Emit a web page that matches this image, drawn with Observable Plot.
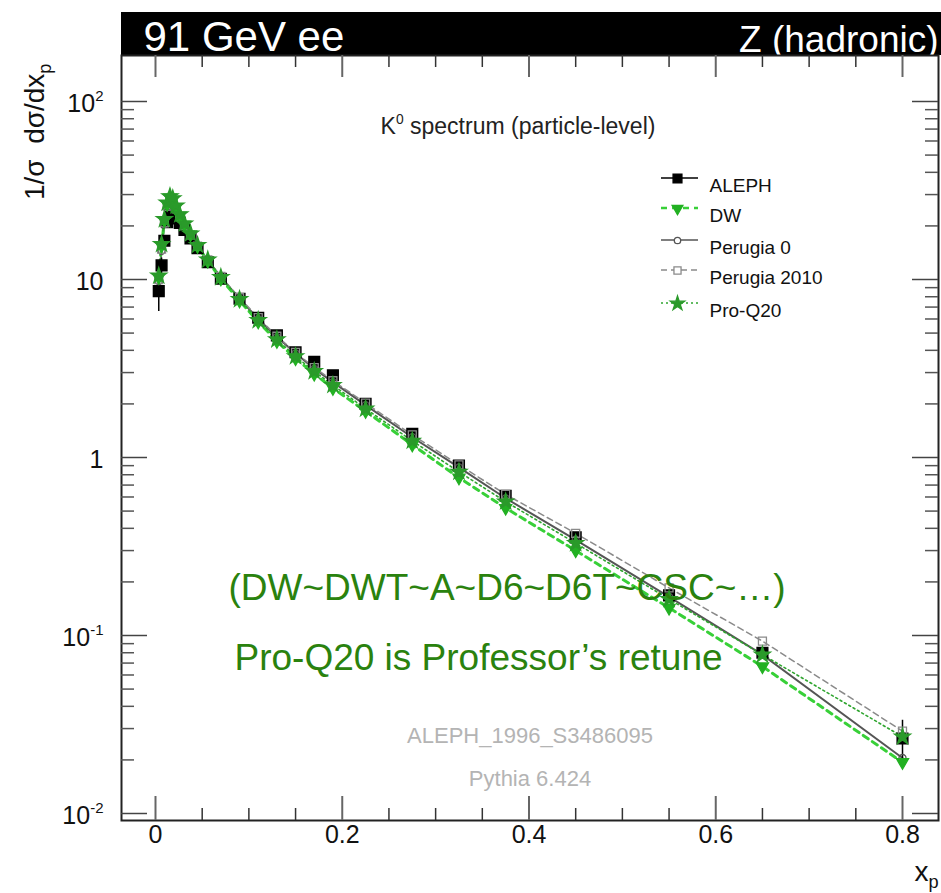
<!DOCTYPE html>
<html><head><meta charset="utf-8">
<script src="https://cdn.jsdelivr.net/npm/d3@7"></script>
<script src="https://cdn.jsdelivr.net/npm/@observablehq/plot@0.6"></script>
<style>
html,body{margin:0;padding:0;background:#fff;}
svg{display:block;}
</style></head><body>
<div id="chart"></div>
<script>
// ---- data ----
const xp = [0.0035, 0.0065, 0.0095, 0.0125, 0.0155, 0.0185, 0.022, 0.026, 0.031, 0.0375, 0.045, 0.056, 0.07, 0.09,
            0.11, 0.13, 0.15, 0.17, 0.19, 0.225, 0.275, 0.325, 0.375, 0.45, 0.55, 0.65, 0.8];
const aleph = [8.6, 12.0, 16.5, 21.0, 23.0, 23.0, 22.0, 20.8, 19.0, 17.0, 15.0, 12.5, 10.1, 7.8,
               6.1, 4.85, 3.9, 3.45, 2.9, 2.0, 1.36, 0.90, 0.61, 0.356, 0.168, 0.080, 0.0264];
const alephErr = [2.0, 1.2, 1.0, 0.9, 0.9, 0.8, 0.7, 0.6, 0.5, 0.45, 0.4, 0.3, 0.25, 0.2,
                  0.15, 0.12, 0.1, 0.09, 0.08, 0.06, 0.04, 0.03, 0.02, 0.015, 0.008, 0.005, 0.007];
const dw = [10.3, 15.5, 21.5, 26.5, 28.8, 28.0, 25.5, 22.8, 20.3, 17.9, 15.4, 12.7, 10.1, 7.6,
            5.8, 4.5, 3.6, 2.95, 2.45, 1.82, 1.18, 0.77, 0.52, 0.30, 0.143, 0.067, 0.0194];
const perugia0 = [9.8, 14.5, 20.5, 25.5, 27.5, 26.7, 24.6, 22.3, 19.9, 17.6, 15.2, 12.8, 10.3, 7.8,
                  6.0, 4.75, 3.85, 3.15, 2.65, 1.97, 1.30, 0.88, 0.59, 0.345, 0.165, 0.078, 0.0205];
const perugia2010 = [10.0, 14.8, 20.8, 25.8, 27.8, 27.0, 24.9, 22.6, 20.1, 17.8, 15.4, 12.9, 10.4, 7.9,
                     6.1, 4.8, 3.9, 3.2, 2.7, 2.02, 1.34, 0.91, 0.62, 0.375, 0.185, 0.093, 0.029];
const proQ20 = [10.5, 15.8, 21.8, 27.0, 29.3, 28.5, 26.0, 23.2, 20.6, 18.1, 15.6, 12.9, 10.3, 7.75,
                5.9, 4.6, 3.7, 3.05, 2.55, 1.88, 1.24, 0.83, 0.565, 0.33, 0.16, 0.078, 0.027];
const seriesNames = ["ALEPH", "DW", "Perugia 0", "Perugia 2010", "Pro-Q20"];
const xMajorTicks = [0, 0.2, 0.4, 0.6, 0.8];
const xTickLabels = ["0", "0.2", "0.4", "0.6", "0.8"];
const xMinorTicks = [0.05, 0.1, 0.15, 0.25, 0.3, 0.35, 0.45, 0.5, 0.55, 0.65, 0.7, 0.75];
const yMajorTicks = [0.01, 0.1, 1, 10, 100];
const yTickLabels = ["10^{-2}", "10^{-1}", "1", "10", "10^{2}"];
const yMinorTicks = [0.01, 0.1, 1, 10].flatMap(d => [2,3,4,5,6,7,8,9].map(k => k * d));
const headerLeft = "91 GeV ee";
const headerRight = "Z (hadronic)";
const plotTitle = "K^{0} spectrum (particle-level)";
const xLabel = "x_{p}";
const yLabel = "1/σ  dσ/dx_{p}";
const noteLines = ["(DW~DWT~A~D6~D6T~CSC~…)", "Pro-Q20 is Professor’s retune"];
const infoLines = ["ALEPH_1996_S3486095", "Pythia 6.424"];

// ---- layout ----
const W = 941, H = 893, mL = 121, mR = 3, mT = 55, mB = 73;
const fw = W - mL - mR, fh = H - mT - mB;
const font = "'Liberation Sans', Arial, Helvetica, sans-serif";

const rows = xp.map((x, i) => ({x, aleph: aleph[i], lo: aleph[i] - alephErr[i], hi: aleph[i] + alephErr[i],
  dw: dw[i], p0: perugia0[i], p2010: perugia2010[i], q20: proQ20[i]}));

const triDown = {draw(ctx, size) {
  const s = Math.sqrt(size * 4 / Math.sqrt(3)); const h = s * Math.sqrt(3) / 2;
  ctx.moveTo(-s/2, -h/3); ctx.lineTo(s/2, -h/3); ctx.lineTo(0, 2*h/3); ctx.closePath();
}};

const styles = {
  "ALEPH":        {stroke: "#000", dash: null, sw: 1.5, symbol: "square", fill: "#000", mstroke: "#000", r: 6, lr: 5},
  "DW":           {stroke: "#38d038", dash: "6,5", sw: 3, symbol: triDown, fill: "#22b022", mstroke: "#22b022", r: 4.5, lr: 4},
  "Perugia 0":    {stroke: "#555", dash: null, sw: 2, symbol: "circle", fill: "none", mstroke: "#555", r: 3.5, lr: 3.2},
  "Perugia 2010": {stroke: "#8a8a8a", dash: "6,4", sw: 1.5, symbol: "square", fill: "none", mstroke: "#8a8a8a", r: 4.5, lr: 4},
  "Pro-Q20":      {stroke: "#2fa52f", dash: "2,3", sw: 1.6, symbol: "star", fill: "#2a9a2a", mstroke: "#2a9a2a", r: 5, lr: 4.5}
};
const keyOf = {"DW": "dw", "Perugia 0": "p0", "Perugia 2010": "p2010", "Pro-Q20": "q20"};

const marks = [];
// header bar
marks.push((index, scales, values, dims) => {
  return d3.create("svg:rect").attr("x", dims.marginLeft).attr("y", 12)
    .attr("width", dims.width - dims.marginLeft).attr("height", dims.marginTop - 12)
    .attr("fill", "#000").node();
});
marks.push(Plot.text([headerLeft], {text: d => d, frameAnchor: "top-left", textAnchor: "start", lineAnchor: "bottom",
  dx: 22, dy: -5, fill: "#fff", fontSize: 42, fontFamily: font}));
marks.push(Plot.text([headerRight], {text: d => d, frameAnchor: "top-right", textAnchor: "end", lineAnchor: "bottom",
  dx: 0, dy: -4, fill: "#fff", fontSize: 37, fontFamily: font}));

marks.push(Plot.frame({stroke: "#222", strokeWidth: 2}));

// ticks (inward, all four sides)
marks.push(Plot.tickX(xMajorTicks, {x: d => d, insetTop: fh - 24, stroke: "#666", strokeWidth: 2}));
marks.push(Plot.tickX(xMajorTicks, {x: d => d, insetBottom: fh - 22, stroke: "#666", strokeWidth: 2}));
marks.push(Plot.tickX(xMinorTicks, {x: d => d, insetTop: fh - 12, stroke: "#333", strokeWidth: 1.5}));
marks.push(Plot.tickX(xMinorTicks, {x: d => d, insetBottom: fh - 12, stroke: "#333", strokeWidth: 1.5}));
marks.push(Plot.tickY(yMajorTicks, {y: d => d, insetRight: fw - 26, stroke: "#444", strokeWidth: 1.5}));
marks.push(Plot.tickY(yMajorTicks, {y: d => d, insetLeft: fw - 26, stroke: "#444", strokeWidth: 1.5}));
marks.push(Plot.tickY(yMinorTicks, {y: d => d, insetRight: fw - 13, stroke: "#555", strokeWidth: 1.5}));
marks.push(Plot.tickY(yMinorTicks, {y: d => d, insetLeft: fw - 13, stroke: "#555", strokeWidth: 1.5}));

// tick labels
marks.push(Plot.text(xMajorTicks, {x: d => d, text: (d, i) => xTickLabels[i], frameAnchor: "bottom", dy: 22,
  fontSize: 25, fontFamily: font, fill: "#111"}));
marks.push(Plot.text(yMajorTicks, {y: d => d, text: (d, i) => yTickLabels[i], frameAnchor: "left", textAnchor: "end",
  dx: -18, dy: 2, fontSize: 25, fontFamily: font, fill: "#111"}));

// axis labels and titles
marks.push(Plot.text([xLabel], {text: d => d, frameAnchor: "bottom-right", textAnchor: "end", lineAnchor: "bottom",
  dx: 0, dy: 60, fontSize: 28, fontFamily: font, fill: "#111"}));
marks.push(Plot.text([yLabel], {text: d => d, frameAnchor: "top-left", textAnchor: "end", lineAnchor: "bottom",
  rotate: -90, dx: -78, dy: 8, fontSize: 28, fontFamily: font, fill: "#111"}));
marks.push(Plot.text([plotTitle], {text: d => d, frameAnchor: "top", lineAnchor: "bottom",
  dx: -12, dy: 78, fontSize: 23, fontFamily: font, fill: "#222"}));
marks.push(Plot.text([infoLines[0]], {text: d => d, frameAnchor: "bottom", lineAnchor: "bottom",
  dx: 0, dy: -78, fontSize: 22, fontFamily: font, fill: "#b4b4b4"}));
marks.push(Plot.text([infoLines[1]], {text: d => d, frameAnchor: "bottom", lineAnchor: "bottom",
  dx: 0, dy: -35, fontSize: 22, fontFamily: font, fill: "#b4b4b4"}));

// series lines
for (const name of ["Perugia 0", "Perugia 2010", "DW", "Pro-Q20"]) {
  const s = styles[name], k = keyOf[name];
  marks.push(Plot.line(rows, {x: "x", y: k, stroke: s.stroke, strokeWidth: s.sw, strokeDasharray: s.dash}));
}
// data
marks.push(Plot.ruleX(rows, {x: "x", y1: "lo", y2: "hi", stroke: "#000", strokeWidth: 1.5}));
marks.push(Plot.dot(rows, {x: "x", y: "aleph", symbol: "square", r: styles["ALEPH"].r, fill: "#000", stroke: "#000"}));
// MC markers
for (const name of ["Perugia 0", "Perugia 2010", "DW", "Pro-Q20"]) {
  const s = styles[name], k = keyOf[name];
  marks.push(Plot.dot(rows, {x: "x", y: k, symbol: s.symbol, r: s.r, fill: s.fill, stroke: s.mstroke, strokeWidth: 1.3}));
}

// legend
const legRowDy = [123, 153, 185, 215, 248];
marks.push((index, scales, values, dims) => {
  const g = d3.create("svg:g");
  seriesNames.forEach((name, i) => {
    const s = styles[name];
    const y = dims.marginTop + legRowDy[i];
    g.append("line").attr("x1", dims.marginLeft + 540).attr("x2", dims.marginLeft + 577)
      .attr("y1", y).attr("y2", y).attr("stroke", s.stroke).attr("stroke-width", name === "DW" ? 2.5 : 1.5)
      .attr("stroke-dasharray", s.dash);
  });
  return g.node();
});
seriesNames.forEach((name, i) => {
  const s = styles[name];
  marks.push(Plot.dot([name], {frameAnchor: "top-left", dx: 556, dy: legRowDy[i], symbol: s.symbol, r: s.lr,
    fill: s.fill === "none" ? "#fff" : s.fill, stroke: s.mstroke, strokeWidth: 1.3}));
  marks.push(Plot.text([name], {text: d => d, frameAnchor: "top-left", textAnchor: "start", dx: 588, dy: legRowDy[i],
    fontSize: 19, fontFamily: font, fill: "#111"}));
});

// green annotation
marks.push(Plot.text([noteLines[0]], {text: d => d, frameAnchor: "top-left", textAnchor: "start", lineAnchor: "bottom",
  dx: 107, dy: 544, fontSize: 37, fontFamily: "Helvetica, Arial, 'Liberation Sans', sans-serif", fill: "#2a820e"}));
marks.push(Plot.text([noteLines[1]], {text: d => d, frameAnchor: "top-left", textAnchor: "start", lineAnchor: "bottom",
  dx: 113, dy: 614, fontSize: 37, fontFamily: "Helvetica, Arial, 'Liberation Sans', sans-serif", fill: "#2a820e"}));

const chart = Plot.plot({
  width: W, height: H, marginLeft: mL, marginRight: mR, marginTop: mT, marginBottom: mB,
  style: {background: "#fff", fontFamily: font, overflow: "visible"},
  x: {domain: [(mL - 155) / 933.75, (W - mR - 155) / 933.75], axis: null},
  y: {type: "log", domain: [Math.pow(10, -2 - 7 / 178), Math.pow(10, 2 + 46 / 178)], axis: null},
  marks
});

// rich text: ^{..} superscript and _{..} subscript
function richText(svg) {
  d3.select(svg).selectAll("text").each(function() {
    const t = this.textContent;
    if (!/[\^_]\{/.test(t)) return;
    const fs = parseFloat(getComputedStyle(this).fontSize) || 16;
    const parts = [];
    const re = /(\^|_)\{([^}]*)\}/g;
    let last = 0, m;
    while ((m = re.exec(t))) {
      if (m.index > last) parts.push({kind: "n", s: t.slice(last, m.index)});
      parts.push({kind: m[1] === "^" ? "sup" : "sub", s: m[2]});
      last = re.lastIndex;
    }
    if (last < t.length) parts.push({kind: "n", s: t.slice(last)});
    const el = d3.select(this);
    el.text(null);
    let shift = 0;
    for (const p of parts) {
      const ts = el.append("tspan").text(p.s);
      let target = 0;
      if (p.kind === "sup") { target = -0.42 * fs; ts.attr("font-size", 0.6 * fs); }
      else if (p.kind === "sub") { target = 0.28 * fs; ts.attr("font-size", 0.65 * fs); }
      if (target - shift !== 0) ts.attr("dy", target - shift);
      shift = target;
    }
  });
}
document.getElementById("chart").appendChild(chart);
richText(chart);
</script>
</body></html>
